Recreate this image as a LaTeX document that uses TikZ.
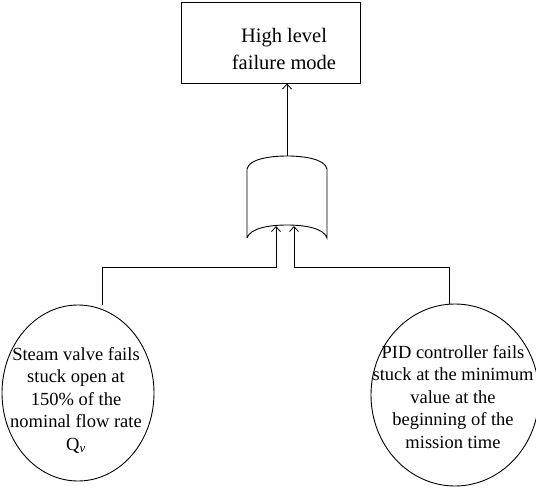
\documentclass[tikz,border=0pt]{standalone}
\usepackage{fontspec}
\setmainfont{Liberation Serif}
\usetikzlibrary{arrows.meta,shapes.geometric}
\begin{document}
\begin{tikzpicture}[x=1pt,y=-1pt,line width=0.9pt,
  conn/.style={-{Straight Barb[length=5pt,width=9pt,line width=0.8pt]}},
  topbox/.style={draw,minimum width=179pt,minimum height=81pt,inner sep=0pt},
  event/.style={draw,ellipse,inner sep=0pt},
  evtext/.style={align=center,font=\fontsize{18.5}{22.5}\selectfont}]
\useasboundingbox (0,0) rectangle (536,488);
% top event
\node[topbox] (top) at (270.5,42.5) {};
\node[align=center,font=\fontsize{20.5}{27}\selectfont] (toptext) at (284,49) {High level\\failure mode};
% gate
\coordinate (gtop) at (287,156);
\coordinate (gin1) at (276,226);
\coordinate (gin2) at (294,226);
\draw (247,238) -- (247,169) .. controls (249,159) and (270,156) .. (gtop)
  .. controls (304,156) and (325,159) .. (327,169) -- (327,238)
  .. controls (324,228) and (304,225) .. (287,225)
  .. controls (270,225) and (250,228) .. (247,238);
\draw[conn] (gtop) -- (top.south -| gtop);
% basic events
\node[event,minimum width=152pt,minimum height=176pt] (e1) at (78,393) {};
\node[evtext] (t1) at (76,400) {Steam valve fails\\stuck open at\\150\% of the\\nominal flow rate\\Q\textsubscript{\textit{v}}};
\node[event,minimum width=168pt,minimum height=182pt] (e2) at (455,395) {};
\node[evtext] (t2) at (453,397) {PID controller fails\\stuck at the minimum\\value at the\\beginning of the\\mission time};
\draw[conn] (e1.north -| 102,0) |- (276,267) -- (gin1);
\draw[conn] (e2.north -| 449,0) |- (294,267) -- (gin2);
\end{tikzpicture}
\end{document}
